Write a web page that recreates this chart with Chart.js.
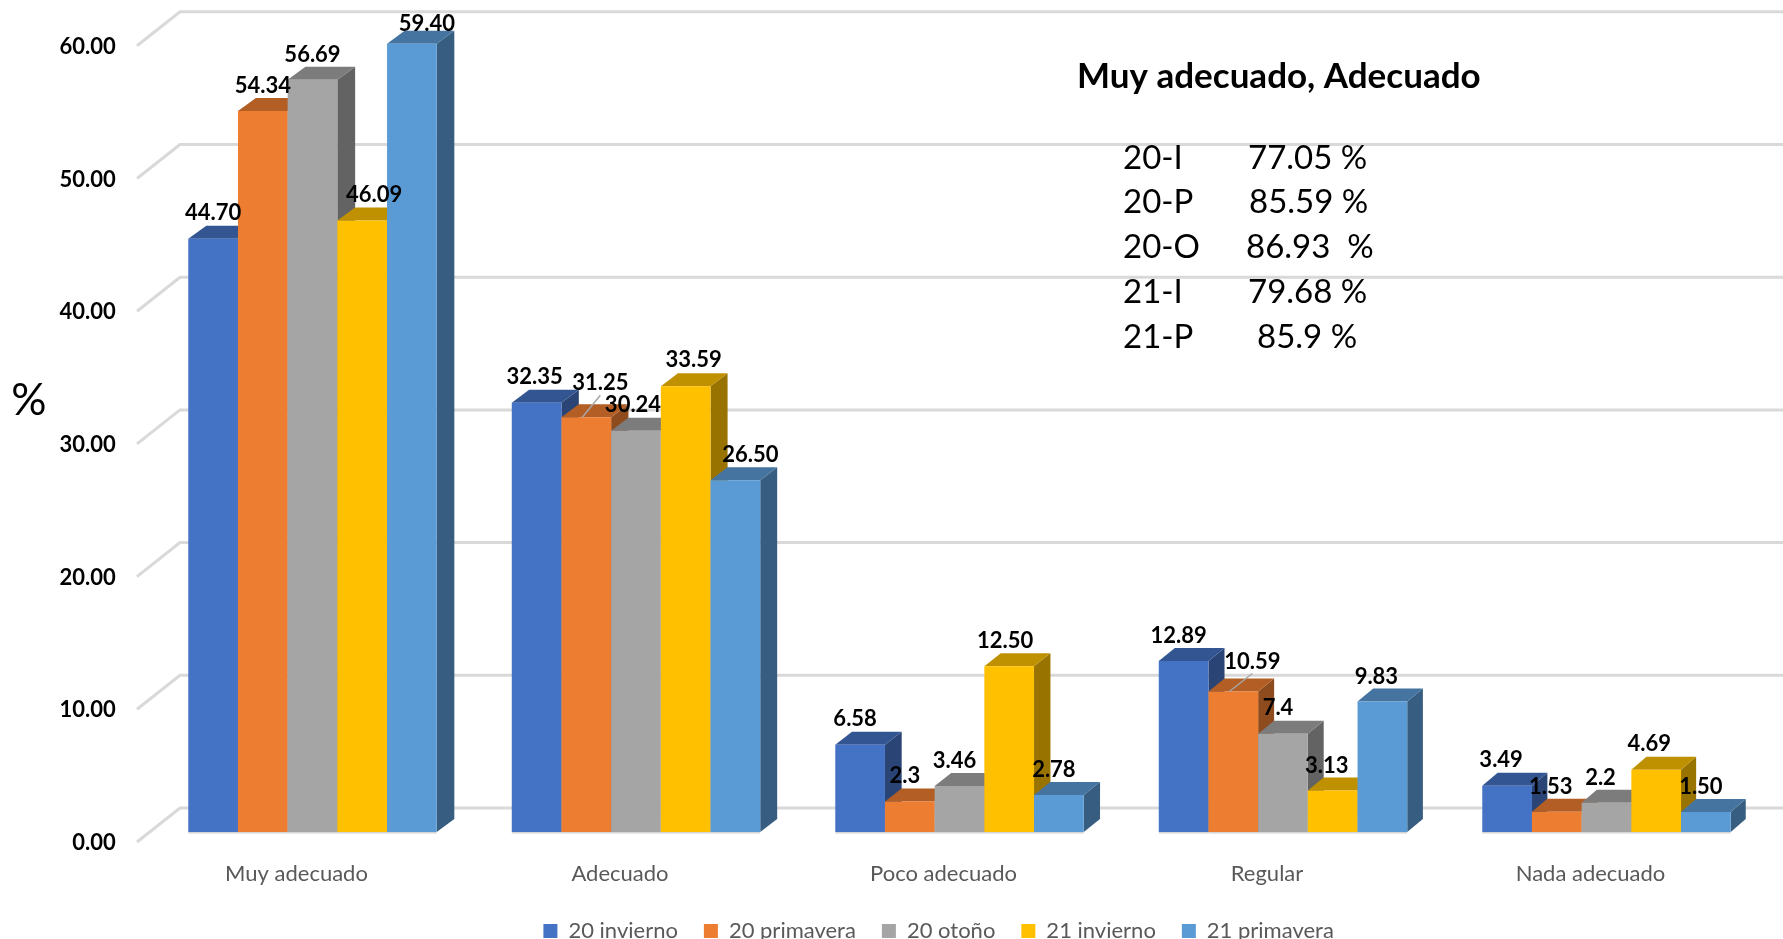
<!DOCTYPE html>
<html>
<head>
<meta charset="utf-8">
<title>Muy adecuado, Adecuado</title>
<script src="https://cdn.jsdelivr.net/npm/chart.js@4"></script>
<style>
	html, body { margin: 0; padding: 0; background: #fff; overflow: hidden; }
	canvas { display: block; }
</style>
</head>
<body>
<canvas id="myChart" width="1783" height="939"></canvas>
<script>
var categories = ["Muy adecuado", "Adecuado", "Poco adecuado", "Regular", "Nada adecuado"];
var seriesNames = ["20 invierno", "20 primavera", "20 otoño", "21 invierno", "21 primavera"];

var invierno20 = [44.70, 32.35, 6.58, 12.89, 3.49];
var primavera20 = [54.34, 31.25, 2.3, 10.59, 1.53];
var otono20 = [56.69, 30.24, 3.46, 7.4, 2.2];
var invierno21 = [46.09, 33.59, 12.50, 3.13, 4.69];
var primavera21 = [59.40, 26.50, 2.78, 9.83, 1.50];

// these three are printed with one decimal in the original
var shortLabels = [2.3, 7.4, 2.2];

var yTicks = [0, 10, 20, 30, 40, 50, 60];

var summaryTitle = "Muy adecuado, Adecuado";
var summaryNames = ["20-I", "20-P", "20-O", "21-I", "21-P"];
var summaryValues = ["77.05 %", "85.59 %", "86.93  %", "79.68 %", "85.9 %"];

var frontColors = ["#4472C4", "#ED7D31", "#A5A5A5", "#FFC000", "#5B9BD5"];
var topColors = ["#335693", "#B25E25", "#7C7C7C", "#BF9000", "#44749F"];
var sideColors = ["#294475", "#8E4B1D", "#636363", "#997300", "#375D80"];

// label shift from the bar top, most labels sit at [-5, -25]
var labelShifts = [
	[[0, -26], [-2, -26], [-5, -26], [-5, -25], [-6, -26]],
	[[0, -25], [14, -34], [-5, -26], [19, -30], [-6, -25]],
	[[0, -25], [-3, -26], [-5, -25], [-5, -26], [-6, -25]],
	[[12, -25], [8, -26], [-4, -25], [-6, -25], [-7, -26]],
	[[15, -20], [15, -25], [-5, -25], [-6, -25], [-5, -25]]
];

var fontName = "Lato, Carlito, sans-serif";
var depthY = 13;

function depthX(x) {
	return 18 - (x - 189) * 0.002;
}

function labelText(value) {
	return shortLabels.indexOf(value) >= 0 ? String(value) : value.toFixed(2);
}

function polygon(ctx, points, color) {
	ctx.fillStyle = color;
	ctx.beginPath();
	ctx.moveTo(points[0][0], points[0][1]);
	for (var i = 1; i < points.length; i++) {
		ctx.lineTo(points[i][0], points[i][1]);
	}
	ctx.closePath();
	ctx.fill();
}

var gridPlugin = {
	id: "grid3d",
	beforeDatasetsDraw: function(chart) {
		var ctx = chart.ctx;
		var yScale = chart.scales.y;
		ctx.save();
		ctx.strokeStyle = "#D9D9D9";
		ctx.lineWidth = 3;
		yTicks.forEach(function(value) {
			var y = yScale.getPixelForValue(value);
			ctx.beginPath();
			ctx.moveTo(137, y + 10);
			ctx.lineTo(180, y - 24);
			ctx.lineTo(chart.width, y - 24);
			ctx.stroke();
		});
		ctx.restore();
	}
};

var barsPlugin = {
	id: "bars3d",
	// default draw order is cancelled, the bars have to go left to right
	beforeDatasetDraw: function() {
		return false;
	},
	afterDatasetsDraw: function(chart) {
		var ctx = chart.ctx;

		for (var d = 0; d < seriesNames.length; d++) {
			var meta = chart.getDatasetMeta(d);
			meta.data.forEach(function(bar) {
				var left = bar.x - bar.width / 2;
				var right = bar.x + bar.width / 2;
				var dx = depthX(left);
				polygon(ctx, [[right, bar.y], [right + dx, bar.y - depthY], [right + dx, bar.base - depthY], [right, bar.base]], sideColors[d]);
				polygon(ctx, [[left, bar.y], [left + dx, bar.y - depthY], [right + dx, bar.y - depthY], [right, bar.y]], topColors[d]);
			});
			meta.controller.draw();
			meta.data.forEach(function(bar) {
				ctx.fillStyle = "#D4D4D4";
				ctx.fillRect(bar.x - bar.width / 2, bar.base, bar.width, 1.5);
			});
		}

		ctx.save();
		ctx.textAlign = "center";
		ctx.textBaseline = "middle";
		ctx.font = "bold 22px " + fontName;

		// leader lines of the two labels moved off their bars
		ctx.strokeStyle = "#A6A6A6";
		ctx.lineWidth = 1.5;
		[[1, 1], [1, 3]].forEach(function(pair) {
			var bar = chart.getDatasetMeta(pair[0]).data[pair[1]];
			var shift = labelShifts[pair[0]][pair[1]];
			ctx.beginPath();
			ctx.moveTo(bar.x - 4, bar.y);
			ctx.lineTo(bar.x + shift[0], bar.y + shift[1] + 12);
			ctx.stroke();
		});

		ctx.fillStyle = "#000";
		for (var s = 0; s < seriesNames.length; s++) {
			chart.getDatasetMeta(s).data.forEach(function(bar, i) {
				var shift = labelShifts[s][i];
				ctx.fillText(labelText(chart.data.datasets[s].data[i]), bar.x + shift[0], bar.y + shift[1]);
			});
		}
		ctx.restore();

		// "%" and the summary block are text boxes on top of the chart
		ctx.save();
		ctx.fillStyle = "#000";
		ctx.textBaseline = "middle";
		ctx.textAlign = "center";
		ctx.font = "44px " + fontName;
		ctx.fillText("%", 29, 401);

		ctx.textAlign = "left";
		ctx.font = "bold 35px " + fontName;
		ctx.fillText(summaryTitle, 1077, 77);
		ctx.font = "33px " + fontName;
		var rowY = [158, 202, 247, 292, 337];
		var valueX = [1248, 1249, 1246, 1248, 1257];
		summaryNames.forEach(function(name, i) {
			ctx.fillText(name, 1123, rowY[i]);
			ctx.fillText(summaryValues[i], valueX[i], rowY[i]);
		});
		ctx.restore();
	},
	afterLayout: function(chart) {
		// legend sits right of centre and is cut by the bottom edge
		var legend = chart.legend;
		legend.left += 54.5;
		legend.right += 54.5;
		legend.top = 924 - legend.options.labels.padding - 4;
	}
};

var seriesValues = [invierno20, primavera20, otono20, invierno21, primavera21];
var datasets = [];
seriesNames.forEach(function(name, i) {
	datasets.push({
		label: name,
		data: seriesValues[i],
		backgroundColor: frontColors[i],
		borderWidth: 0,
		categoryPercentage: 0.768,
		barPercentage: 1
	});
});

var myChart = new Chart(document.getElementById("myChart"), {
	type: "bar",
	data: { labels: categories, datasets: datasets },
	plugins: [gridPlugin, barsPlugin],
	options: {
		responsive: false,
		animation: false,
		layout: { autoPadding: false, padding: { left: 0, right: 14.75, top: 35.8, bottom: 0 } },
		plugins: {
			tooltip: { enabled: false },
			legend: {
				position: "bottom",
				maxHeight: 30,
				labels: {
					boxWidth: 14,
					boxHeight: 14,
					padding: 26,
					color: "#595959",
					font: { family: fontName, size: 22 }
				}
			}
		},
		scales: {
			x: {
				grid: { display: false },
				border: { display: false },
				ticks: {
					padding: 21,
					labelOffset: -16,
					maxRotation: 0,
					autoSkip: false,
					color: "#595959",
					font: { family: fontName, size: 22 }
				},
				afterFit: function(scale) {
					scale.height = 77;
				}
			},
			y: {
				min: 0,
				max: 60,
				grid: { display: false },
				border: { display: false },
				ticks: {
					stepSize: 10,
					padding: 27,
					labelOffset: 11,
					color: "#000",
					font: { family: fontName, size: 22, weight: "bold" },
					callback: function(value) {
						return value.toFixed(2);
					}
				},
				afterFit: function(scale) {
					scale.width = 150.75;
					// tick padding would otherwise push the top of the plot down
					scale.paddingTop = 0;
					scale.paddingBottom = 0;
				}
			}
		}
	}
});
</script>
</body>
</html>
